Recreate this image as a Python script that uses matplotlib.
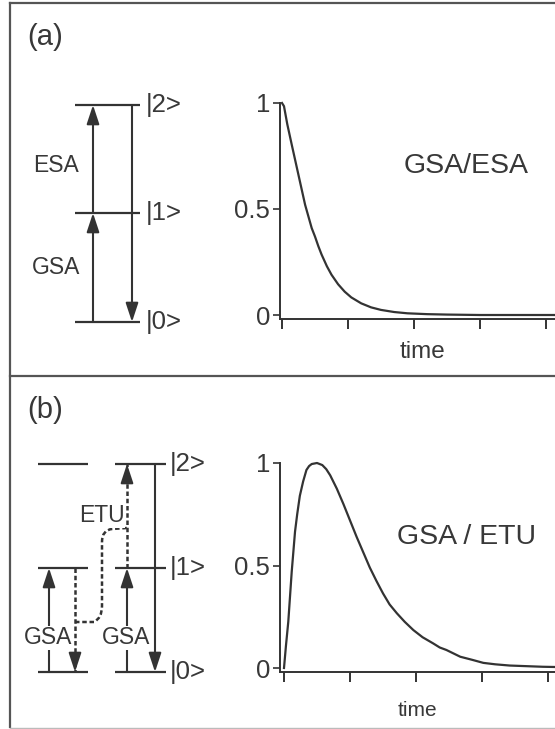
import matplotlib
matplotlib.use("Agg")
import matplotlib.pyplot as plt
from matplotlib.path import Path
from matplotlib.patches import PathPatch

plt.rcParams["font.family"] = ["Liberation Sans", "DejaVu Sans"]

# decay of the upper level after GSA/ESA excitation
decay_t = [0, 0.03, 0.08, 0.15, 0.20, 0.25, 0.30, 0.35, 0.40, 0.45, 0.50, 0.55,
           0.60, 0.68, 0.75, 0.85, 0.95, 1.05, 1.20, 1.35, 1.50, 1.70, 1.90,
           2.20, 2.50, 3.00, 3.50, 4.00, 4.60]
decay_v = [1.0, 0.985, 0.90, 0.80, 0.73, 0.66, 0.59, 0.52, 0.465, 0.41, 0.37, 0.325,
           0.285, 0.23, 0.19, 0.145, 0.11, 0.083, 0.055, 0.036, 0.024, 0.014, 0.008,
           0.004, 0.002, 0.0, 0.0, 0.0, 0.0]

# rise and decay of the upper level after GSA/ETU excitation
rise_t = [0, 0.03, 0.065, 0.117, 0.167, 0.20, 0.24, 0.29, 0.34, 0.38, 0.42, 0.50,
          0.58, 0.64, 0.70, 0.80, 0.90, 1.00, 1.10, 1.20, 1.30, 1.40, 1.50, 1.60,
          1.71, 1.83, 1.96, 2.10, 2.26, 2.36, 2.46, 2.67, 2.85, 3.02, 3.20, 3.42,
          3.92, 4.60]
rise_v = [0.0, 0.11, 0.226, 0.47, 0.665, 0.75, 0.84, 0.91, 0.966, 0.985, 0.995, 1.0,
          0.99, 0.97, 0.94, 0.875, 0.80, 0.72, 0.64, 0.565, 0.49, 0.425, 0.364, 0.31,
          0.267, 0.225, 0.185, 0.15, 0.12, 0.10, 0.088, 0.055, 0.04, 0.025, 0.018,
          0.012, 0.006, 0.002]

time_ticks = [0, 1, 2, 3, 4]
value_ticks = [0, 0.5, 1]
value_labels = ["0", "0.5", "1"]
level_names = ["|2>", "|1>", "|0>"]

W, H = 555, 729
ink = "#333333"
txt = "#383838"
dots = (0, (1.8, 1.1))

fig = plt.figure(figsize=(W / 100, H / 100), dpi=100)

# overlay in pixel coordinates for frames and level schemes
dax = fig.add_axes([0, 0, 1, 1])
dax.set_xlim(0, W)
dax.set_ylim(H, 0)
dax.axis("off")

# outer frame and divider
frame = "#555555"
dax.plot([10, 10], [3, 727], color=frame, lw=1.6)
dax.plot([10, W], [3, 3], color=frame, lw=1.6)
dax.plot([10, W], [376, 376], color=frame, lw=1.6)
dax.plot([10, W], [727.5, 727.5], color="#bbbbbb", lw=1.0)

dax.text(27, 37, "(a)", fontsize=21, color=txt, ha="left", va="center")
dax.text(27, 410, "(b)", fontsize=21, color=txt, ha="left", va="center")


def level(x0, x1, y):
    dax.plot([x0, x1], [y, y], color=ink, lw=1.6, solid_capstyle="butt")


def arrow(x, y0, y1):
    dax.annotate("", xy=(x, y1), xytext=(x, y0),
                 arrowprops=dict(arrowstyle="-|>,head_length=1.15,head_width=0.38",
                                 mutation_scale=10, lw=1.5, color=ink,
                                 shrinkA=0, shrinkB=0))


def dotted_arrow(x, y0, y1):
    dax.plot([x, x], [y0, y1], color=ink, lw=1.8, linestyle=dots)
    step = 12 if y1 > y0 else -12
    arrow(x, y1 - step, y1)


# panel (a): GSA / ESA scheme
ya = [105, 213, 322]
for y in ya:
    level(75, 140, y)
for y, name in zip(ya, level_names):
    dax.text(146, y, name, fontsize=18.5, color=txt, ha="left", va="center")
arrow(93, ya[2], ya[1])
arrow(93, ya[1], ya[0])
arrow(132, ya[0], ya[2])
dax.text(56, 165, "ESA", fontsize=16.5, color=txt, ha="center", va="center")
dax.text(56, 267, "GSA", fontsize=16.5, color=txt, ha="center", va="center")

# panel (b): GSA / ETU scheme with two ions
yb = [464, 568, 672]
for y in yb:
    level(38, 88, y)
    level(115, 166, y)
for y, name in zip(yb, level_names):
    dax.text(170, y, name, fontsize=18.5, color=txt, ha="left", va="center")
arrow(49, yb[2], yb[1])
dotted_arrow(75, yb[1], yb[2])
arrow(127, yb[2], yb[1])
dotted_arrow(127, yb[1], yb[0])
arrow(155, yb[0], yb[2])

# energy transfer path between the two ions
etu = Path([(75, 622), (94, 622), (102, 618), (102, 606),
            (102, 542), (102, 530), (112, 529), (127, 528)],
           [Path.MOVETO, Path.LINETO, Path.CURVE3, Path.CURVE3,
            Path.LINETO, Path.CURVE3, Path.CURVE3, Path.LINETO])
dax.add_patch(PathPatch(etu, fill=False, edgecolor=ink, lw=1.8, linestyle=dots))

box = dict(facecolor="white", edgecolor="none", pad=0.3)
dax.text(102, 516, "ETU", fontsize=16.5, color=txt, ha="center", va="center", bbox=box)
dax.text(48, 638, "GSA", fontsize=16.5, color=txt, ha="center", va="center", bbox=box)
dax.text(126, 638, "GSA", fontsize=16.5, color=txt, ha="center", va="center", bbox=box)


def place_axes(x0, sx, y0, sy, xlim, ylim):
    left = x0 + xlim[0] * sx
    right = x0 + xlim[1] * sx
    bottom = y0 - ylim[0] * sy
    top = y0 - ylim[1] * sy
    ax = fig.add_axes([left / W, (H - bottom) / H, (right - left) / W, (bottom - top) / H])
    ax.set_xlim(*xlim)
    ax.set_ylim(*ylim)
    ax.patch.set_alpha(0)
    for side in ("top", "right"):
        ax.spines[side].set_visible(False)
    for side in ("left", "bottom"):
        ax.spines[side].set_linewidth(1.4)
        ax.spines[side].set_color(ink)
    ax.spines["left"].set_bounds(ylim[0], 1.0)
    ax.set_xticks(time_ticks)
    ax.set_xticklabels([])
    ax.set_yticks(value_ticks)
    ax.set_yticklabels(value_labels, fontsize=18.5, color=txt)
    ax.tick_params(axis="x", direction="out", length=7, width=1.4, color=ink)
    ax.tick_params(axis="y", direction="out", length=5, width=1.2, color=ink, pad=2)
    return ax


ax_a = place_axes(282, 66, 315, 212, (-0.03, 4.6), (-0.019, 1.05))
ax_a.plot(decay_t, decay_v, color=ink, lw=1.6, clip_on=False)
dax.text(466, 166, "GSA/ESA", fontsize=20.5, color=txt, ha="center", va="center")
dax.text(423, 352, "time", fontsize=17.5, color=txt, ha="center", va="center")

ax_b = place_axes(284, 66, 668, 205, (-0.06, 4.6), (-0.02, 1.05))
ax_b.plot(rise_t, rise_v, color=ink, lw=1.6, clip_on=False)
dax.text(467, 537, "GSA / ETU", fontsize=20.5, color=txt, ha="center", va="center")
dax.text(417, 711, "time", fontsize=15, color=txt, ha="center", va="center")

fig.savefig("out.png", dpi=100)
